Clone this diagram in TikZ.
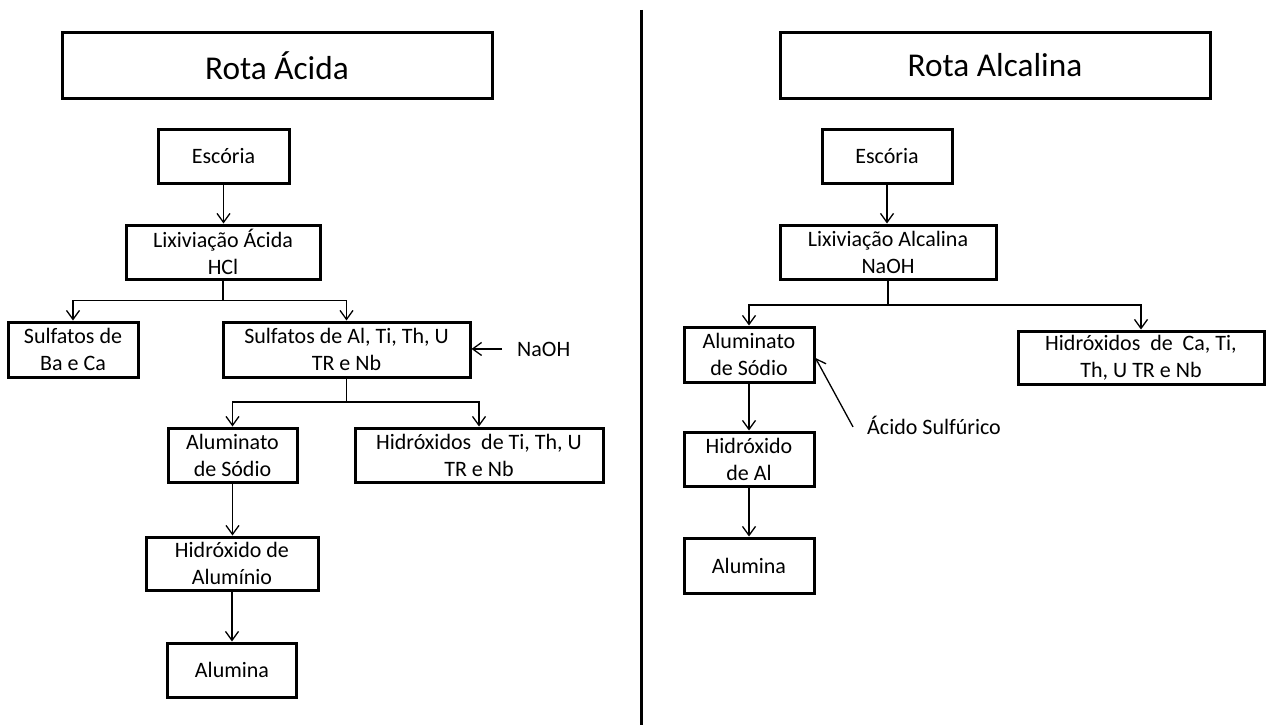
\documentclass[tikz,border=0pt]{standalone}
\usepackage{fontspec}
\setmainfont{Carlito}
\usetikzlibrary{arrows.meta}
\begin{document}
\begin{tikzpicture}[x=1pt,y=-1pt,
  box/.style={draw, line width=3pt, inner sep=0pt, align=center, font=\fontsize{22}{27}\selectfont},
  titlebox/.style={draw, line width=3pt, inner sep=0pt, align=center, font=\fontsize{33.3}{40}\selectfont},
  sz/.style n args={2}{minimum width=#1pt, minimum height=#2pt},
  lbl/.style={inner sep=0pt, font=\fontsize{22}{27}\selectfont},
  arr/.style={line width=1.3pt, -{Straight Barb[length=9pt,width=13pt]}},
  ln/.style={line width=1.3pt},
  divider/.style={line width=3pt}]
\useasboundingbox (0,0) rectangle (1266,725);

% divider
\coordinate (dtop) at (641,10);
\coordinate (dbot) at (641,725);
\draw[divider] (dtop) -- (dbot);

% ---------------- Rota Ácida ----------------
\node[titlebox, sz={430}{65}] (tA) at (277,65.5) {Rota Ácida};
\node[box, sz={131}{54}] (esA) at (223.5,156) {Escória};
\node[box, sz={194}{54}] (lixA) at (223,252) {Lixiviação Ácida\\HCl};
\node[box, sz={130}{55}] (sBa) at (73,349.5) {Sulfatos de\\Ba e Ca};
\node[box, sz={247}{55}] (sAl) at (346.5,349.5) {Sulfatos de Al, Ti, Th, U\\TR e Nb};
\node[lbl, anchor=base west] (naoh) at (517,356) {NaOH};
\node[box, sz={129}{54}] (aluA) at (232.5,455) {Aluminato\\de Sódio};
\node[box, sz={248}{54}] (hidA) at (479,455) {Hidróxidos~ de Ti, Th, U\\TR e Nb};
\node[box, sz={172}{53}] (hAlA) at (232,563.5) {Hidróxido de\\Alumínio};
\node[box, sz={129}{54}] (almA) at (232,670) {Alumina};

\coordinate (bA1) at (223,300.5);
\coordinate (bA2) at (346.5,402);

\draw[arr] (esA.south) -- (esA.south |- lixA.north);
\draw[ln] (lixA.south) -- (bA1);
\draw[arr] (bA1) -| (sBa.north);
\draw[arr] (bA1) -| (sAl.north);
\draw[arr] ([xshift=-15pt]naoh.west) -- (sAl.east |- naoh.west);
\draw[ln] (sAl.south) -- (bA2);
\draw[arr] (bA2) -| (aluA.north);
\draw[arr] (bA2) -| (hidA.north);
\draw[arr] (aluA.south) -- (aluA.south |- hAlA.north);
\draw[arr] (hAlA.south) -- (hAlA.south |- almA.north);

% ---------------- Rota Alcalina ----------------
\node[titlebox, sz={430}{65}] (tB) at (995,65.5) {Rota Alcalina};
\node[box, sz={130}{54}] (esB) at (887,156) {Escória};
\node[box, sz={216}{54}] (lixB) at (888,252) {Lixiviação Alcalina\\NaOH};
\node[box, sz={130}{55}] (aluB) at (749,354.5) {Aluminato\\de Sódio};
\node[box, sz={246}{53}] (hidB) at (1141,357.5) {Hidróxidos~ de~ Ca, Ti,\\Th, U TR e Nb};
\node[box, sz={130}{54}] (hAlB) at (749,459) {Hidróxido\\de Al};
\node[box, sz={130}{55}] (almB) at (749,565.5) {Alumina};
\node[lbl, anchor=base west] (acido) at (867,434) {Ácido Sulfúrico};

\coordinate (bB) at (888,305);

\draw[arr] (esB.south) -- (esB.south |- lixB.north);
\draw[ln] (lixB.south) -- (bB);
\draw[arr] (bB) -| (aluB.north);
\draw[arr] (bB) -| (hidB.north);
\draw[arr] ([xshift=-14pt,yshift=-2pt]acido.west) -- ([yshift=-3.5pt]aluB.east);
\draw[arr] (aluB.south) -- (aluB.south |- hAlB.north);
\draw[arr] (hAlB.south) -- (hAlB.south |- almB.north);
\end{tikzpicture}
\end{document}
